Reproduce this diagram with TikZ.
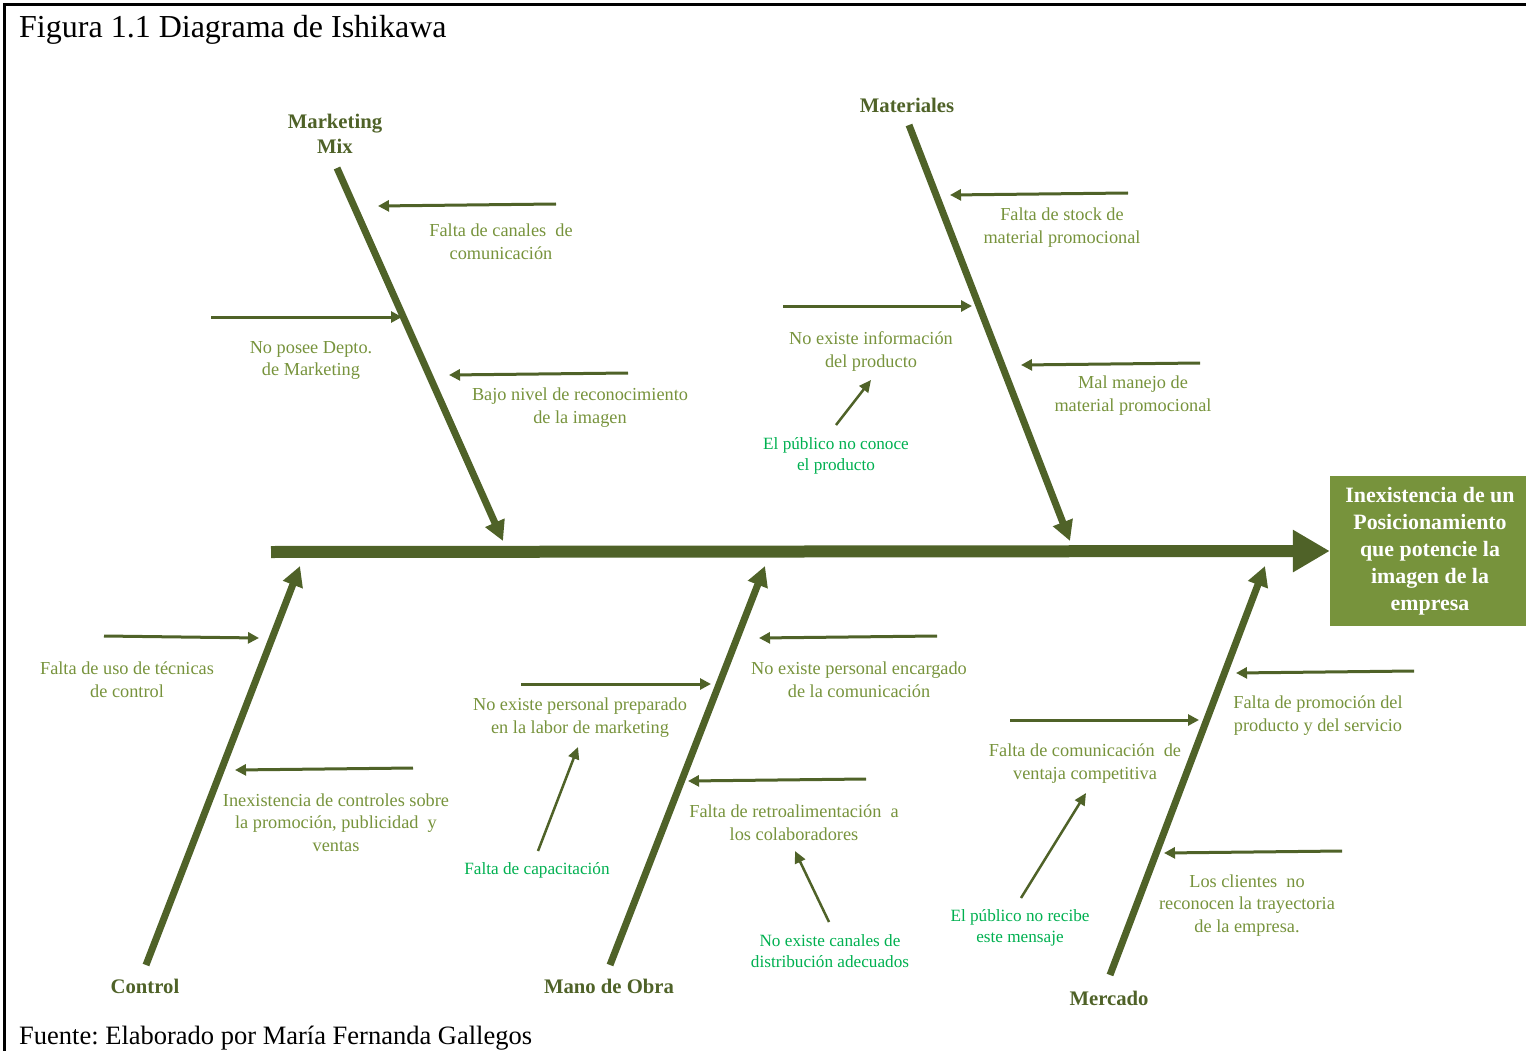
\documentclass[tikz,border=0pt]{standalone}
\usepackage{fontspec}
\setmainfont{Liberation Serif}
\usetikzlibrary{arrows.meta}
\definecolor{dk}{HTML}{4F6228}
\definecolor{ol}{HTML}{77933C}
\definecolor{gr}{HTML}{00B050}
\frenchspacing
\begin{document}
\begin{tikzpicture}[x=1pt,y=-1pt,
  spine/.style={dk, line width=12pt, -{Triangle[length=37pt,width=40pt]}},
  bone/.style={dk, line width=7pt, -{Triangle[length=20pt,width=20pt]}},
  sub/.style={dk, line width=3pt, -{Triangle[length=11pt,width=11pt]}},
  thinarr/.style={dk, line width=2.5pt, -{Triangle[length=12pt,width=11pt]}},
  cat/.style={dk, font=\fontsize{20.7}{25}\selectfont\bfseries, align=center, inner sep=0pt},
  lab/.style={ol, font=\fontsize{18.3}{22.5}\selectfont, align=center, inner sep=0pt, yshift=-1.5pt},
  glab/.style={gr, font=\fontsize{17.2}{21}\selectfont, align=center, inner sep=0pt, yshift=-1.5pt},
  effect/.style={fill=ol, text=white, font=\fontsize{21.9}{27}\selectfont\bfseries, align=center,
    minimum width=196pt, minimum height=150pt, inner sep=0pt},
]
\useasboundingbox (0,0) rectangle (1526,1051);
% frame
\draw[black, line width=3pt] (4,1051) -- (4,5) -- (1526,5);
\node[anchor=base west, font=\fontsize{32}{38}\selectfont, inner sep=0pt] (title) at (19,38) {Figura 1.1 Diagrama de Ishikawa};
\node[anchor=base west, font=\fontsize{26.5}{32}\selectfont, inner sep=0pt] (source) at (19,1044) {Fuente: Elaborado por María Fernanda Gallegos};

% effect and spine
\node[effect] (eff) at (1428,551) {\hspace*{4pt}Inexistencia de un\\\hspace*{4pt}Posicionamiento\\\hspace*{4pt}que potencie la\\\hspace*{4pt}imagen de la\\\hspace*{4pt}empresa};
\coordinate (tail) at (271,552);
\draw[spine] (tail) -- (eff.west);

% bones
\coordinate (mkA) at (337,168); \coordinate (mkB) at (503,541);
\coordinate (maA) at (909,125); \coordinate (maB) at (1070,541);
\coordinate (coA) at (146,965); \coordinate (coB) at (300,566);
\coordinate (moA) at (610,965); \coordinate (moB) at (765,566);
\coordinate (meA) at (1110,975); \coordinate (meB) at (1265,566);
\draw[bone] (mkA) -- (mkB);
\draw[bone] (maA) -- (maB);
\draw[bone] (coA) -- (coB);
\draw[bone] (moA) -- (moB);
\draw[bone] (meA) -- (meB);

% category labels
\node[cat] (lmk) at (335,134) {Marketing\\Mix};
\node[cat] (lma) at (907,105) {Materiales};
\node[cat] (lco) at (145,986) {Control};
\node[cat] (lmo) at (609,986) {Mano de Obra};
\node[cat] (lme) at (1109,998) {Mercado};

% Marketing Mix causes
\coordinate (a1s) at (556,204); \coordinate (a1e) at (378,206);
\coordinate (a2s) at (211,317); \coordinate (a2e) at (402,317);
\coordinate (a3s) at (628,373); \coordinate (a3e) at (449,375);
\draw[sub] (a1s) -- (a1e);
\draw[sub] (a2s) -- (a2e);
\draw[sub] (a3s) -- (a3e);
\node[lab] (t1) at (501,240) {Falta de canales\ \ de\\comunicación};
\node[lab] (t2) at (311,359) {No posee Depto.\\de Marketing};
\node[lab] (t3) at (580,406) {Bajo nivel de reconocimiento\\de la imagen};

% Materiales causes
\coordinate (b1s) at (1128,193); \coordinate (b1e) at (950,195);
\coordinate (b2s) at (783,306); \coordinate (b2e) at (972,306);
\coordinate (b3s) at (1200,363); \coordinate (b3e) at (1021,365);
\draw[sub] (b1s) -- (b1e);
\draw[sub] (b2s) -- (b2e);
\draw[sub] (b3s) -- (b3e);
\node[lab] (u1) at (1062,226) {Falta de stock\ de\\material promocional};
\node[lab] (u2) at (871,350) {No existe\ información\\del producto};
\node[lab] (u3) at (1133,394) {Mal manejo\ de\\material promocional};
\node[glab] (u4) at (836,454) {El público no conoce\\el producto};
\coordinate (u4s) at (836,425); \coordinate (u4e) at (871,380);
\draw[thinarr] (u4s) -- (u4e);

% Control causes
\coordinate (c1s) at (104,636); \coordinate (c1e) at (259,638);
\coordinate (c2s) at (413,768); \coordinate (c2e) at (235,770);
\draw[sub] (c1s) -- (c1e);
\draw[sub] (c2s) -- (c2e);
\node[lab] (v1) at (127,678) {Falta de uso de técnicas\\de control};
\node[lab] (v2) at (336,821) {Inexistencia de controles sobre\\la promoción, publicidad\ \ y\\ventas};

% Mano de Obra causes
\coordinate (d1s) at (937,636); \coordinate (d1e) at (759,638);
\coordinate (d2s) at (521,684); \coordinate (d2e) at (711,684);
\coordinate (d3s) at (866,779); \coordinate (d3e) at (688,781);
\draw[sub] (d1s) -- (d1e);
\draw[sub] (d2s) -- (d2e);
\draw[sub] (d3s) -- (d3e);
\node[lab] (w1) at (859,678) {No existe personal encargado\\de la comunicación};
\node[lab] (w2) at (580,716) {No existe\ personal preparado\\en la labor de marketing};
\node[lab] (w3) at (794,821) {Falta de retroalimentación\ \ a\\los colaboradores};
\node[glab] (w4) at (537,869) {Falta de capacitación};
\node[glab] (w5) at (830,950) {No existe canales de\\distribución adecuados};
\coordinate (w4s) at (538,851); \coordinate (w4e) at (578,747);
\coordinate (w5s) at (829,922); \coordinate (w5e) at (795,851);
\draw[thinarr] (w4s) -- (w4e);
\draw[thinarr] (w5s) -- (w5e);

% Mercado causes
\coordinate (e1s) at (1414,671); \coordinate (e1e) at (1236,673);
\coordinate (e2s) at (1010,720); \coordinate (e2e) at (1199,720);
\coordinate (e3s) at (1342,851); \coordinate (e3e) at (1164,853);
\draw[sub] (e1s) -- (e1e);
\draw[sub] (e2s) -- (e2e);
\draw[sub] (e3s) -- (e3e);
\node[lab] (x1) at (1318,714) {Falta de promoción\ del\\producto y del servicio};
\node[lab] (x2) at (1085,762) {Falta de comunicación\ \ de\\ventaja competitiva};
\node[lab] (x3) at (1247,904) {Los clientes\ \ no\\reconocen la trayectoria\\de la empresa.};
\node[glab] (x4) at (1020,926) {El público no recibe\\este mensaje};
\coordinate (x4s) at (1021,898); \coordinate (x4e) at (1086,793);
\draw[thinarr] (x4s) -- (x4e);
\end{tikzpicture}
\end{document}
